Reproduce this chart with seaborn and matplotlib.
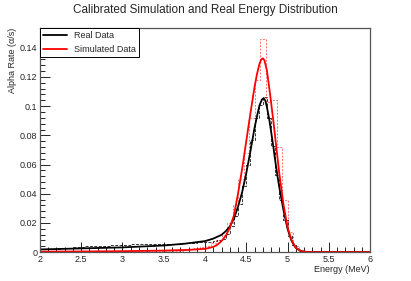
import matplotlib
matplotlib.use("Agg")
import matplotlib.pyplot as plt
import numpy as np
import seaborn as sns
from matplotlib.ticker import MultipleLocator, FuncFormatter

# fitted curves (energy in MeV, rate in alpha/s)
real_fit_e = [2.0, 2.5, 3.0, 3.5, 3.75, 4.0, 4.1, 4.2, 4.25, 4.3, 4.35, 4.4, 4.45, 4.5, 4.55,
              4.6, 4.63, 4.66, 4.69, 4.71, 4.73, 4.75, 4.78, 4.8, 4.83, 4.85, 4.88, 4.9, 4.95,
              5.0, 5.05, 5.1, 5.15, 5.2, 5.3, 6.0]
real_fit_v = [0.0018, 0.0025, 0.0032, 0.0045, 0.0057, 0.0075, 0.0092, 0.0118, 0.0142, 0.0175,
              0.0228, 0.031, 0.041, 0.054, 0.069, 0.085, 0.093, 0.1005, 0.1045, 0.1055, 0.104,
              0.0995, 0.0905, 0.083, 0.0715, 0.063, 0.0515, 0.0445, 0.029, 0.016, 0.0075, 0.003,
              0.001, 0.0002, 0.0, 0.0]

sim_fit_e = [2.0, 2.5, 3.0, 3.5, 3.8, 4.0, 4.1, 4.15, 4.2, 4.25, 4.3, 4.35, 4.4, 4.45, 4.5,
             4.55, 4.6, 4.63, 4.66, 4.68, 4.7, 4.72, 4.75, 4.78, 4.8, 4.83, 4.85, 4.88, 4.9,
             4.95, 5.0, 5.05, 5.1, 5.15, 5.2, 5.3, 6.0]
sim_fit_v = [0.0003, 0.0004, 0.0006, 0.001, 0.0015, 0.0022, 0.0035, 0.005, 0.0075, 0.011,
             0.0165, 0.025, 0.04, 0.057, 0.076, 0.095, 0.113, 0.122, 0.129, 0.1318, 0.1328,
             0.1315, 0.1245, 0.112, 0.103, 0.089, 0.079, 0.064, 0.054, 0.033, 0.017, 0.008,
             0.003, 0.001, 0.0002, 0.0, 0.0]

# histograms (bin left edges start at 2 MeV)
real_hist_w = 0.05
real_hist = [0.0020, 0.0021, 0.0022, 0.0022, 0.0024, 0.0025, 0.0027, 0.0030, 0.0033, 0.0036,
             0.0038, 0.0040, 0.0039, 0.0041, 0.0043, 0.0044, 0.0043, 0.0046, 0.0048, 0.0049,
             0.0050, 0.0051, 0.0053, 0.0055, 0.0056, 0.0058, 0.0057, 0.0056, 0.0055, 0.0054,
             0.0055, 0.0056, 0.0057, 0.0058, 0.0060, 0.0061, 0.0063, 0.0064, 0.0066, 0.0068,
             0.0070, 0.0072, 0.0075, 0.0080, 0.0088, 0.0125, 0.018, 0.025, 0.033, 0.045,
             0.060, 0.077, 0.092, 0.101, 0.106, 0.092, 0.073, 0.053, 0.036, 0.022,
             0.011, 0.005, 0.002, 0.0008, 0.0003, 0.0001, 0, 0, 0, 0,
             0, 0, 0, 0, 0, 0, 0, 0, 0, 0]

sim_hist_w = 1 / 15
sim_hist = [0.0003] * 10 + [0.0005] * 10 + [0.0008] * 6 + [0.0012, 0.0018, 0.0025, 0.0035] + \
           [0.004, 0.006, 0.008, 0.012, 0.02, 0.032, 0.05, 0.068, 0.092, 0.118,
            0.146, 0.103, 0.104, 0.072, 0.036, 0.014, 0.004, 0.0015, 0.0005] + [0] * 11


def steps(w, vals):
    edges = 2.0 + w * np.arange(len(vals) + 1)
    return edges, list(vals) + [vals[-1]]


sns.set_style("ticks")
plt.rcParams["font.family"] = ["Liberation Sans", "DejaVu Sans"]

fig = plt.figure(figsize=(4.11, 2.81), dpi=100)
ax = fig.add_axes([0.0973, 0.103, 0.803, 0.797])

ex, ey = steps(real_hist_w, real_hist)
sns.lineplot(x=ex, y=ey, ax=ax, color="black", lw=0.7, drawstyle="steps-post",
             linestyle=(0, (3, 1.5)), alpha=0.8, label="_nolegend_", sort=False)
ex, ey = steps(sim_hist_w, sim_hist)
sns.lineplot(x=ex, y=ey, ax=ax, color="red", lw=0.7, drawstyle="steps-post",
             linestyle=(0, (2, 1.5)), alpha=0.55, label="_nolegend_", sort=False)

sns.lineplot(x=real_fit_e, y=real_fit_v, ax=ax, color="black", lw=1.3, label="Real Data", sort=False)
sns.lineplot(x=sim_fit_e, y=sim_fit_v, ax=ax, color="red", lw=1.3, label="Simulated Data", sort=False)

ax.set_xlim(2, 6)
ax.set_ylim(0, 0.1535)
ax.xaxis.set_major_locator(MultipleLocator(0.5))
ax.xaxis.set_minor_locator(MultipleLocator(0.1))
ax.yaxis.set_major_locator(MultipleLocator(0.02))
ax.yaxis.set_minor_locator(MultipleLocator(0.004))
fmt = FuncFormatter(lambda v, p: "%g" % round(v, 4))
ax.xaxis.set_major_formatter(fmt)
ax.yaxis.set_major_formatter(fmt)
ax.tick_params(which="both", direction="in", top=False, right=False, labelsize=6.5,
               color="black", width=0.6, pad=2)
ax.tick_params(which="major", length=7)
ax.tick_params(which="minor", length=3.5)
for s in ax.spines.values():
    s.set_color("#555555")
    s.set_linewidth(0.9)

ax.set_xlabel("Energy (MeV)", loc="right", fontsize=6.5, labelpad=1)
ax.set_ylabel("Alpha Rate (\u03b1/s)", loc="top", fontsize=6.5, labelpad=2)
fig.suptitle("Calibrated Simulation and Real Energy Distribution", fontsize=8.5, y=0.985)

leg = ax.legend(loc="upper left", borderaxespad=0, fancybox=False, edgecolor="black",
                fontsize=6.5, handlelength=2.6, framealpha=1, borderpad=0.35, labelspacing=0.5)
leg.get_frame().set_linewidth(0.7)

fig.savefig("out.png", dpi=100)
